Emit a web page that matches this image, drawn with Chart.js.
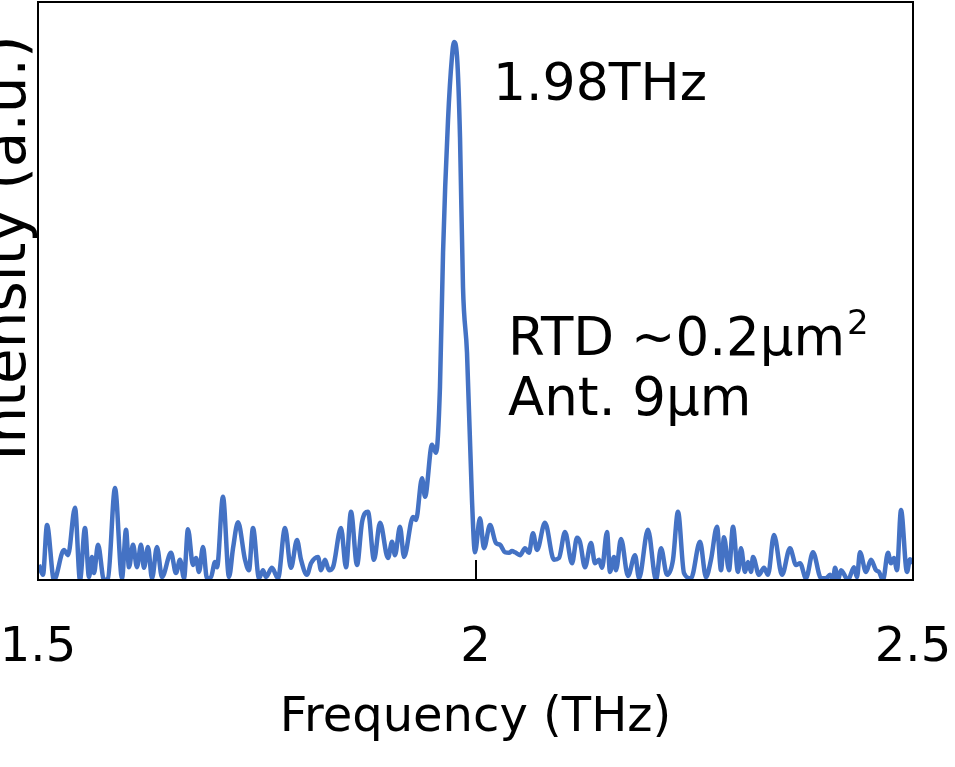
<!DOCTYPE html>
<html lang="en">
<head>
<meta charset="UTF-8">
<title>Spectrum</title>
<style>
  * { margin: 0; padding: 0; box-sizing: border-box; }
  body { background: #fff; width: 955px; height: 767px; overflow: hidden; }
  #wrap { position: relative; width: 955px; height: 767px; }
</style>
<script src="https://cdn.jsdelivr.net/npm/chart.js"></script>
</head>
<body>
<div id="wrap"><canvas id="spec"></canvas></div>
<script>
// frequency (THz)
const freq = [
  1.5011, 1.5057, 1.5103, 1.5183, 1.5297, 1.5343, 1.5423, 1.5480, 1.5537, 1.5583,
  1.5617, 1.5640, 1.5686, 1.5754, 1.5800, 1.5880, 1.5960, 1.6006, 1.6040, 1.6086,
  1.6131, 1.6177, 1.6211, 1.6257, 1.6303, 1.6360, 1.6417, 1.6520, 1.6577, 1.6623,
  1.6669, 1.6714, 1.6771, 1.6806, 1.6840, 1.6886, 1.6931, 1.6977, 1.7023, 1.7046,
  1.7114, 1.7183, 1.7229, 1.7286, 1.7366, 1.7411, 1.7457, 1.7526, 1.7571, 1.7606,
  1.7674, 1.7743, 1.7823, 1.7891, 1.7960, 1.8006, 1.8074, 1.8120, 1.8200, 1.8234,
  1.8280, 1.8326, 1.8371, 1.8463, 1.8520, 1.8577, 1.8646, 1.8703, 1.8771, 1.8840,
  1.8909, 1.9000, 1.9046, 1.9080, 1.9137, 1.9183, 1.9286, 1.9320, 1.9389, 1.9423,
  1.9503, 1.9549, 1.9594, 1.9629, 1.9686, 1.9731, 1.9754, 1.9789, 1.9823, 1.9857,
  1.9903, 1.9960, 1.9994, 2.0051, 2.0097, 2.0166, 2.0234, 2.0280, 2.0337, 2.0383,
  2.0417, 2.0451, 2.0509, 2.0566, 2.0611, 2.0657, 2.0703, 2.0794, 2.0897, 2.0954,
  2.1023, 2.1103, 2.1160, 2.1194, 2.1251, 2.1320, 2.1366, 2.1411, 2.1446, 2.1503,
  2.1537, 2.1583, 2.1606, 2.1663, 2.1743, 2.1823, 2.1869, 2.1971, 2.2063, 2.2120,
  2.2189, 2.2257, 2.2314, 2.2383, 2.2463, 2.2566, 2.2634, 2.2691, 2.2760, 2.2806,
  2.2840, 2.2897, 2.2943, 2.3000, 2.3034, 2.3080, 2.3114, 2.3149, 2.3171, 2.3240,
  2.3297, 2.3343, 2.3411, 2.3503, 2.3594, 2.3663, 2.3709, 2.3777, 2.3857, 2.3949,
  2.4006, 2.4051, 2.4086, 2.4109, 2.4143, 2.4177, 2.4257, 2.4326, 2.4360, 2.4394,
  2.4463, 2.4520, 2.4577, 2.4611, 2.4657, 2.4714, 2.4749, 2.4783, 2.4817, 2.4863,
  2.4931, 2.4966, 2.5000
];

// intensity (a.u., full scale = 100)
const intensity = [
  2.6, 0.9, 9.5, 0.0, 5.2, 4.3, 12.5, 0.0, 9.0, 0.5,
  4.0, 1.2, 6.1, 0.0, 0.3, 15.9, 0.3, 8.7, 2.2, 6.1,
  2.2, 6.1, 2.1, 5.7, 0.3, 5.7, 0.5, 4.7, 1.2, 3.5,
  0.3, 8.8, 2.6, 3.8, 1.4, 5.7, 0.3, 0.5, 3.1, 2.2,
  14.4, 0.5, 5.5, 10.0, 3.5, 1.7, 9.0, 0.3, 1.7, 0.5,
  2.1, 0.3, 9.0, 2.1, 6.9, 3.5, 0.9, 2.9, 4.0, 1.7,
  3.5, 1.7, 2.2, 9.0, 2.2, 11.8, 2.6, 10.0, 11.8, 3.5,
  9.9, 3.8, 6.6, 4.3, 9.2, 4.0, 10.9, 10.4, 17.6, 14.4,
  23.4, 22.0, 33.4, 56.6, 79.6, 90.5, 93.1, 90.5, 76.6, 50.7,
  39.3, 13.8, 4.8, 10.7, 5.5, 9.5, 6.4, 6.1, 4.8, 4.7,
  5.0, 4.8, 4.3, 5.5, 4.7, 8.1, 5.2, 9.9, 3.5, 3.8,
  8.3, 2.9, 7.3, 6.6, 2.2, 6.4, 2.9, 3.5, 2.1, 8.3,
  1.4, 4.0, 1.7, 7.1, 0.7, 4.3, 0.3, 8.7, 0.0, 5.5,
  0.9, 3.5, 11.8, 1.2, 0.3, 6.6, 0.5, 3.5, 9.2, 1.7,
  7.4, 1.7, 9.2, 1.4, 5.5, 1.4, 3.1, 1.4, 4.0, 0.9,
  2.1, 0.9, 7.8, 0.9, 5.5, 2.6, 2.9, 0.3, 4.8, 0.3,
  0.3, 0.9, 0.0, 2.1, 0.0, 1.7, 0.0, 2.2, 0.5, 4.8,
  1.4, 3.5, 1.7, 1.4, 0.0, 4.7, 2.9, 3.8, 1.7, 12.1,
  1.4, 3.6, 2.9
];

const xTickValues = [1.5, 2, 2.5];
const xTickLabels = ['1.5', '2', '2.5'];
const xTitle = 'Frequency (THz)';
const yTitle = 'Intensity (a.u.)';
const peakLabel = '1.98THz';
const noteLines = ['RTD ~0.2μm', 'Ant. 9μm'];

const FONT = '"DejaVu Sans", Verdana, sans-serif';
const LINE = '#4472C4';

const points = freq.map((f, i) => ({ x: f, y: intensity[i] }));

// frame, inward ticks, rotated y title and text notes
const decor = {
  id: 'decor',
  afterDatasetsDraw(chart) {
    const { ctx, chartArea: a, scales } = chart;
    ctx.save();
    ctx.strokeStyle = '#000';
    ctx.lineWidth = 2;
    ctx.strokeRect(a.left, a.top, a.right - a.left, a.bottom - a.top);
    xTickValues.forEach(v => {
      const px = Math.round(scales.x.getPixelForValue(v));
      ctx.beginPath();
      ctx.moveTo(px, a.bottom);
      ctx.lineTo(px, a.bottom - 20);
      ctx.stroke();
    });

    ctx.fillStyle = '#000';
    ctx.font = '58px ' + FONT;
    ctx.textAlign = 'center';
    ctx.textBaseline = 'alphabetic';
    ctx.translate(25, 248);
    ctx.rotate(-Math.PI / 2);
    ctx.fillText(yTitle, 0, 0);
    ctx.restore();

    ctx.save();
    ctx.fillStyle = '#000';
    ctx.textAlign = 'left';
    ctx.textBaseline = 'alphabetic';
    ctx.font = '52px ' + FONT;
    ctx.fillText(peakLabel, 493, 100);
    ctx.font = '53px ' + FONT;
    ctx.fillText(noteLines[0], 508, 355);
    const w = ctx.measureText(noteLines[0]).width;
    ctx.font = '34px ' + FONT;
    ctx.fillText('2', 508 + w + 2, 334);
    ctx.font = '53px ' + FONT;
    ctx.fillText(noteLines[1], 508, 415);
    ctx.restore();
  }
};

new Chart(document.getElementById('spec'), {
  type: 'line',
  data: {
    datasets: [{
      data: points,
      borderColor: LINE,
      borderWidth: 4.5,
      pointRadius: 0,
      fill: false,
      cubicInterpolationMode: 'monotone'
    }]
  },
  options: {
    responsive: true,
    maintainAspectRatio: false,
    animation: false,
    events: [],
    layout: { padding: { left: 38, right: 42, top: 2, bottom: 0 } },
    plugins: { legend: { display: false }, tooltip: { enabled: false } },
    scales: {
      x: {
        type: 'linear',
        min: 1.5,
        max: 2.5,
        afterBuildTicks: s => { s.ticks = xTickValues.map(v => ({ value: v })); },
        afterFit: s => { s.height = 187; s.paddingLeft = 0; s.paddingRight = 0; },
        grid: { display: false, drawTicks: false },
        border: { display: false },
        ticks: {
          color: '#000',
          font: { family: FONT, size: 48 },
          padding: 40,
          maxRotation: 0,
          autoSkip: false,
          callback: (v, i) => xTickLabels[i]
        },
        title: {
          display: true,
          text: xTitle,
          color: '#000',
          font: { family: FONT, size: 48 },
          padding: { top: 0, bottom: 20 }
        }
      },
      y: {
        display: false,
        min: 0,
        max: 100
      }
    }
  },
  plugins: [decor]
});
</script>
</body>
</html>
